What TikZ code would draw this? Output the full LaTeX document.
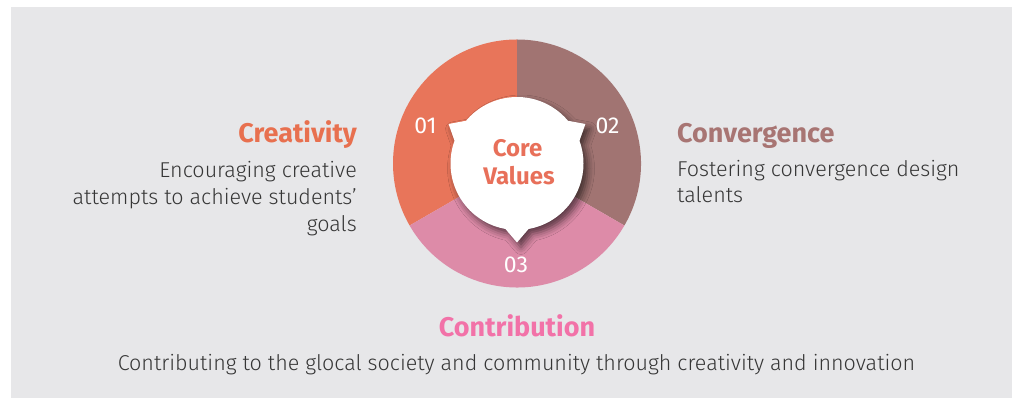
\documentclass[tikz,border=0pt]{standalone}
\usepackage{fontspec}
\setmainfont{Fira Sans}
\newfontfamily\lightfont{Fira Sans Light}
\usetikzlibrary{shadows.blur}
\definecolor{bg}{HTML}{E7E7E9}
\definecolor{segA}{HTML}{E8755A}
\definecolor{segB}{HTML}{A17472}
\definecolor{segC}{HTML}{DD8BA8}
\definecolor{tA}{HTML}{E8704F}
\definecolor{tB}{HTML}{A87573}
\definecolor{tC}{HTML}{F272A8}
\definecolor{body}{HTML}{363636}
\definecolor{core}{HTML}{E8705A}
\begin{document}
\begin{tikzpicture}[x=1pt,y=1pt,
  title/.style={font=\fontsize{27}{30}\selectfont\bfseries, inner sep=0pt},
  desc/.style={font=\lightfont\fontsize{21.5}{27}\selectfont, text=body, inner sep=0pt},
  num/.style={font=\fontsize{23}{24}\selectfont, text=white, inner sep=0pt, anchor=base},
  corestyle/.style={font=\fontsize{24}{28}\selectfont\bfseries, text=core, anchor=base, inner sep=0pt},
]
\useasboundingbox (0,0) rectangle (1012,398);
\fill[bg] (11,0) rectangle (1012,391);
\coordinate (C) at (517,234.5);
% sectors
\fill[segA] (C) -- ++(90:124) arc[start angle=90, end angle=210, radius=124] -- cycle;
\fill[segB] (C) -- ++(-30:124) arc[start angle=-30, end angle=90, radius=124] -- cycle;
\fill[segC] (C) -- ++(210:124) arc[start angle=210, end angle=330, radius=124] -- cycle;
% centre bubble
\fill[white, blur shadow={shadow xshift=4pt, shadow yshift=-5pt, shadow blur radius=7pt, shadow opacity=60}]
  ($(C)+(160:66.5)$) arc[start angle=160, end angle=260, radius=66.5]
  -- ($(C)+(270:79)$) -- ($(C)+(280:66.5)$)
  arc[start angle=280, end angle=380, radius=66.5]
  -- ($(C)+(30:79)$) -- ($(C)+(40:66.5)$)
  arc[start angle=40, end angle=140, radius=66.5]
  -- ($(C)+(150:79)$) -- cycle;
\node[corestyle] (core1) at (517.5,241) {Core};
\node[corestyle] (core2) at (519,213) {Values};
\node[num] (n1) at (425.5,264) {01};
\node[num] (n2) at (607.5,264) {02};
\node[num] (n3) at (516,125) {03};
% texts
\node[title, text=tA, anchor=base east] (t1) at (357,255) {Creativity};
\node[desc, align=right, anchor=base east] (d1) at (357,166) {Encouraging creative\\attempts to achieve students’\\goals};
\node[title, text=tB, anchor=base west] (t2) at (677,255) {Convergence};
\node[desc, align=left, anchor=base west, font=\lightfont\fontsize{21.5}{26}\selectfont] (d2) at (677,195) {Fostering convergence design\\talents};
\node[title, text=tC, anchor=base] (t3) at (517,61) {Contribution};
\node[desc, anchor=base] (d3) at (516.5,27) {Contributing to the glocal society and community through creativity and innovation};
\end{tikzpicture}
\end{document}
